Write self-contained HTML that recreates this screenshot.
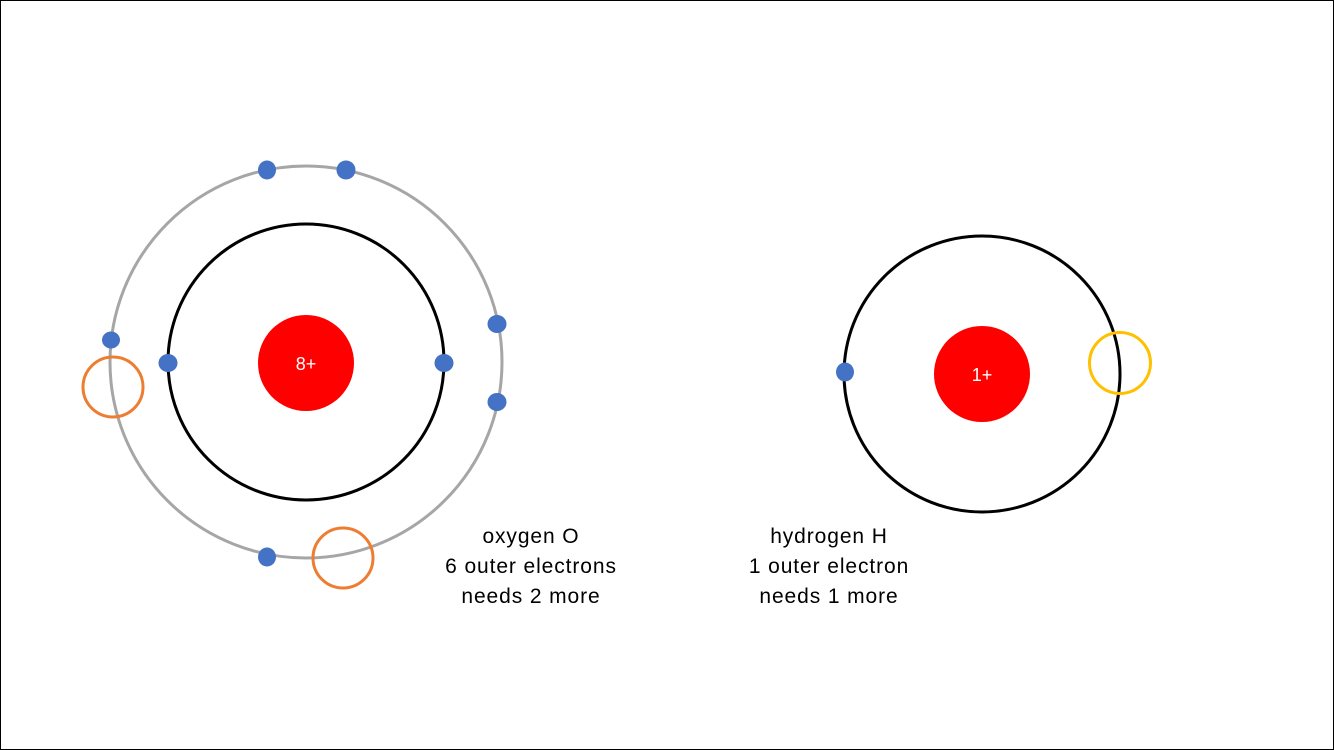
<!DOCTYPE html>
<html><head><meta charset="utf-8"><style>
html,body{margin:0;padding:0;background:#fff;}
svg{display:block;}
text{font-family:"Liberation Sans",sans-serif;}
</style></head><body>
<svg width="1334" height="750" viewBox="0 0 1334 750" xmlns="http://www.w3.org/2000/svg">
<rect x="0.5" y="0.5" width="1333" height="749" fill="#fff" stroke="#000" stroke-width="1"/>
<!-- oxygen -->
<circle cx="306" cy="362" r="196" fill="none" stroke="#a6a6a6" stroke-width="3"/>
<circle cx="306" cy="362" r="138" fill="none" stroke="#000" stroke-width="3"/>
<circle cx="306" cy="363" r="48" fill="#ff0000"/>
<text x="306" y="370" font-size="18" fill="#fff" text-anchor="middle">8+</text>
<g fill="#4472c4">
<ellipse cx="267" cy="170" rx="9" ry="9.5"/>
<ellipse cx="346" cy="170" rx="9.5" ry="9.5"/>
<ellipse cx="111" cy="340" rx="9" ry="8.5"/>
<ellipse cx="168" cy="363" rx="9.5" ry="9"/>
<ellipse cx="444" cy="363" rx="9.5" ry="9"/>
<ellipse cx="497" cy="324" rx="9.5" ry="9"/>
<ellipse cx="497" cy="402" rx="9.5" ry="9"/>
<ellipse cx="267" cy="557" rx="9" ry="9.5"/>
</g>
<circle cx="113" cy="387" r="30" fill="none" stroke="#ed7d31" stroke-width="3"/>
<circle cx="343" cy="558" r="30" fill="none" stroke="#ed7d31" stroke-width="3"/>
<!-- hydrogen -->
<circle cx="982" cy="374" r="138" fill="none" stroke="#000" stroke-width="3"/>
<circle cx="982" cy="374" r="48" fill="#ff0000"/>
<text x="982" y="381" font-size="18" fill="#fff" text-anchor="middle">1+</text>
<ellipse cx="845" cy="372" rx="9" ry="9.5" fill="#4472c4"/>
<circle cx="1120" cy="363" r="30.5" fill="none" stroke="#ffc000" stroke-width="3"/>
<!-- labels -->
<g font-size="21" fill="#000" text-anchor="middle" letter-spacing="0.9">
<text x="531" y="543">oxygen O</text>
<text x="531" y="573">6 outer electrons</text>
<text x="531" y="603">needs 2 more</text>
<text x="829" y="543">hydrogen H</text>
<text x="829" y="573">1 outer electron</text>
<text x="829" y="603">needs 1 more</text>
</g>
</svg>
</body></html>
